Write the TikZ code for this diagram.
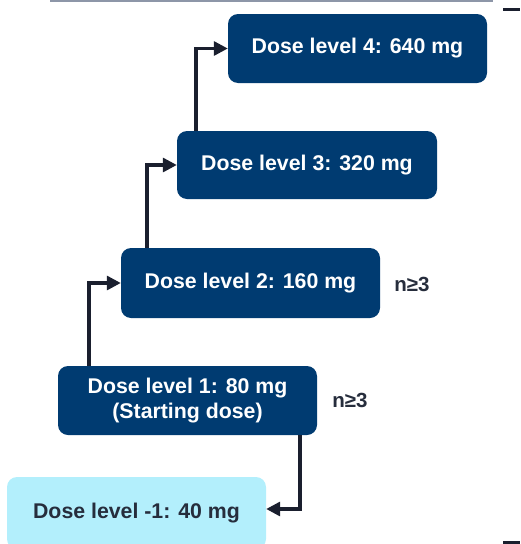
\documentclass[tikz,border=0pt]{standalone}
\usepackage{fontspec}
\setmainfont{Liberation Sans}
\usetikzlibrary{arrows.meta}
\definecolor{navy}{HTML}{003B71}
\definecolor{lightcyan}{HTML}{B3EFFC}
\definecolor{darktext}{HTML}{262D3C}
\definecolor{arrowcol}{HTML}{1A1F2E}
\definecolor{topline}{HTML}{8D96A8}
\tikzset{
  dosebox/.style={rectangle, rounded corners=10pt, fill=navy, text=white,
    minimum width=259pt, minimum height=69pt, inner sep=0pt, align=center,
    font=\fontsize{21.3}{25}\selectfont\bfseries},
  lowbox/.style={dosebox, fill=lightcyan, text=darktext, minimum height=72pt},
  nlabel/.style={text=darktext, inner sep=0pt, font=\fontsize{20.5}{24}\selectfont\bfseries},
  conn/.style={draw=arrowcol, line width=3.2pt, -{Triangle[length=14pt,width=14pt]}},
  bracket/.style={draw=arrowcol, line width=3pt}
}
\begin{document}
\begin{tikzpicture}[x=1pt,y=-1pt]
\useasboundingbox (0,0) rectangle (520,544);
\begin{scope}
\clip (0,0) rectangle (520,544);
\draw[topline, line width=2pt] (50,1) -- (493,1);
\node[dosebox] (d4) at (357.5,48.5) {Dose level 4: 640 mg};
\node[dosebox, minimum width=260pt, minimum height=68pt] (d3) at (307,165) {Dose level 3: 320 mg};
\node[dosebox, minimum height=70pt] (d2) at (250.5,283) {Dose level 2: 160 mg};
\node[dosebox] (d1) at (187.5,400.5) {Dose level 1: 80 mg\\(Starting dose)};
\node[lowbox] (dm1) at (136.5,513) {Dose level -1: 40 mg};
\node[nlabel] (n2) at (412,284) {n≥3};
\node[nlabel] (n1) at (350,400) {n≥3};
\coordinate (x1) at (89,0);
\coordinate (x2) at (147,0);
\coordinate (x3) at (196,0);
\coordinate (x4) at (300,0);
\coordinate (y4) at (0,509);
\draw[conn] (x1 |- d1.north) |- (d2.west);
\draw[conn] (x2 |- d2.north) |- (d3.west);
\draw[conn] (x3 |- d3.north) |- (d4.west);
\draw[conn] (x4 |- d1.south) |- (y4 -| dm1.east);
\coordinate (b1) at (503,9);
\coordinate (b2) at (520,9);
\coordinate (b3) at (503,542);
\coordinate (b4) at (520,542);
\draw[bracket] (b1) -- (b2);
\draw[bracket] (b3) -- (b4);
\end{scope}
\end{tikzpicture}
\end{document}
